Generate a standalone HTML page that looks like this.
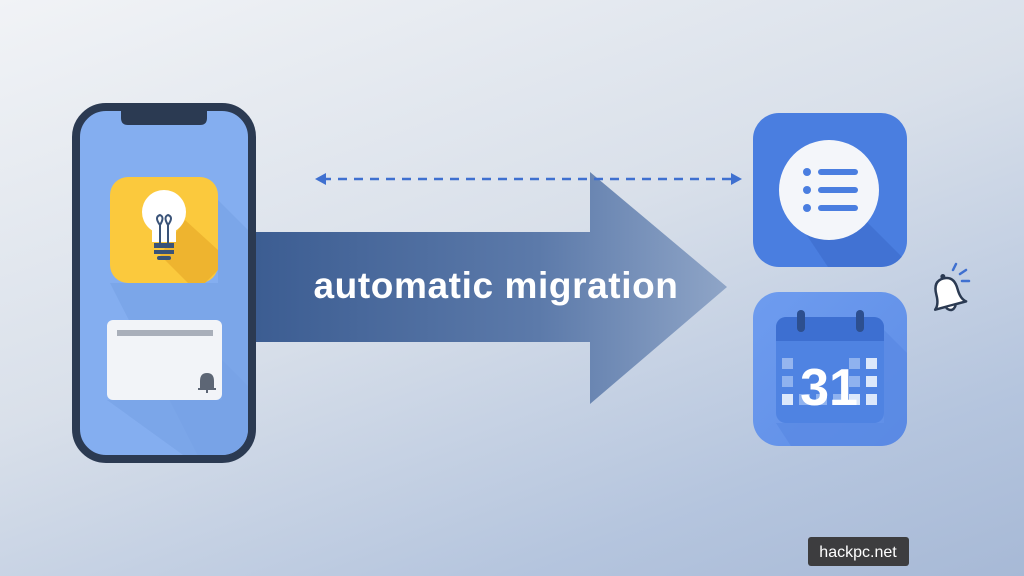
<!DOCTYPE html>
<html><head><style>
body{margin:0;width:1024px;height:576px;overflow:hidden;font-family:"Liberation Sans",sans-serif;}
.bg{position:absolute;inset:0;background:linear-gradient(160deg,#f1f3f6 0%,#d9e0ea 45%,#b5c5de 80%,#a7b9d6 100%);}
</style></head><body>
<div class="bg"></div>
<svg width="1024" height="576" style="position:absolute;left:0;top:0">
<defs>
<linearGradient id="ar" x1="0" x2="1" y1="0" y2="0">
<stop offset="0" stop-color="#3c5d92"/><stop offset="0.6" stop-color="#5c7aaa"/><stop offset="1" stop-color="#8fa5c7"/></linearGradient>
<linearGradient id="cal" x1="0" y1="0" x2="1" y2="1"><stop offset="0" stop-color="#6e9cef"/><stop offset="1" stop-color="#5e8de6"/></linearGradient>
<clipPath id="scr"><rect x="80" y="111" width="168" height="344" rx="26"/></clipPath>
<clipPath id="li"><rect x="753" y="113" width="154" height="154" rx="26"/></clipPath>
<clipPath id="ca"><rect x="753" y="292" width="154" height="154" rx="26"/></clipPath>
</defs>
<!-- arrow -->
<polygon points="256,232 590,232 590,172 727,287 590,404 590,342 256,342" fill="url(#ar)"/>
<text x="496" y="298" font-size="37" font-weight="bold" fill="#fff" text-anchor="middle" font-family="Liberation Sans, sans-serif" letter-spacing="0.6">automatic migration</text>
<!-- dashed -->
<line x1="322" y1="179" x2="734" y2="179" stroke="#3f70d0" stroke-width="2.5" stroke-dasharray="9,7"/>
<polygon points="315,179 326,173 326,185" fill="#3f70d0"/>
<polygon points="742,179 731,173 731,185" fill="#3f70d0"/>
<!-- phone -->
<rect x="76" y="107" width="176" height="352" rx="30" fill="#84aef0" stroke="#2b3a52" stroke-width="8"/>
<g clip-path="url(#scr)">
<polygon points="218,200 260,242 260,460 200,460 110,283 218,283" fill="#78a2e6" opacity="0.7"/>
<polygon points="222,360 260,398 260,460 190,460 107,400 222,400" fill="#78a2e6" opacity="0.7"/>
</g>
<path d="M121,107 H207 V118 Q207,125 200,125 H128 Q121,125 121,118 Z" fill="#2b3a52"/>
<rect x="110" y="177" width="108" height="106" rx="18" fill="#fbc93d"/>
<polygon points="185,220 218,250 218,270 205,283 188,283 160,255" fill="#eeb42f"/>
<circle cx="164" cy="212" r="22" fill="#fff"/>
<rect x="152" y="222" width="24" height="20" fill="#fff"/>
<path d="M160,243 V225 M168,243 V225 M160,225 q-6,-8 0,-10 q5,2 0,10 M168,225 q6,-8 0,-10 q-5,2 0,10" stroke="#3a5378" stroke-width="2" fill="none"/>
<rect x="154" y="243" width="20" height="5" fill="#3a5378"/><rect x="154" y="250" width="20" height="4" fill="#3a5378"/><rect x="157" y="256" width="14" height="4" rx="2" fill="#3a5378"/>
<rect x="107" y="320" width="115" height="80" rx="6" fill="#f2f4f8"/>
<rect x="117" y="330" width="96" height="6" fill="#a9afba"/>
<path d="M201,388 v-7 q0,-7 6,-7 q6,0 6,7 v7 z M198,389 h18 M207,390 v3" stroke="#5d6675" fill="#5d6675" stroke-width="2"/>
<!-- list icon -->
<rect x="753" y="113" width="154" height="154" rx="26" fill="#4a7ee0"/>
<polygon points="865,220 920,275 920,300 850,300 800,225" fill="#3f6fd0" opacity="0.8" clip-path="url(#li)"/>
<circle cx="829" cy="190" r="50" fill="#f4f6fa"/>
<g fill="#4a7ee0"><circle cx="807" cy="172" r="4"/><circle cx="807" cy="190" r="4"/><circle cx="807" cy="208" r="4"/>
<rect x="818" y="169" width="40" height="6" rx="3"/><rect x="818" y="187" width="40" height="6" rx="3"/><rect x="818" y="205" width="40" height="6" rx="3"/></g>
<!-- calendar -->
<rect x="753" y="292" width="154" height="154" rx="26" fill="url(#cal)"/>
<polygon points="884,330 920,366 920,460 800,460 776,423 884,423" fill="#5a8ae4" opacity="0.8" clip-path="url(#ca)"/>
<rect x="776" y="317" width="108" height="106" rx="10" fill="#4f83e2"/>
<rect x="776" y="317" width="108" height="24" rx="10" fill="#3d6fd1"/>
<rect x="776" y="330" width="108" height="11" fill="#3d6fd1"/>
<rect x="797" y="310" width="8" height="22" rx="4" fill="#2d4f8f"/><rect x="856" y="310" width="8" height="22" rx="4" fill="#2d4f8f"/>
<g fill="#8fb2ef"><rect x="782" y="376" width="11" height="11"/><rect x="799" y="394" width="11" height="11"/><rect x="816" y="394" width="11" height="11"/><rect x="833" y="394" width="11" height="11"/><rect x="849" y="358" width="11" height="11"/><rect x="849" y="376" width="11" height="11"/></g>
<g fill="#dce8fb">
<rect x="782" y="394" width="11" height="11"/><rect x="849" y="394" width="11" height="11"/><rect x="866" y="394" width="11" height="11"/>
<rect x="866" y="358" width="11" height="11"/><rect x="866" y="376" width="11" height="11"/><rect x="782" y="358" width="11" height="11" opacity="0.5"/>
</g>
<text x="829" y="405" font-size="52" font-weight="bold" fill="#fff" text-anchor="middle">31</text>
<!-- bell -->
<g transform="rotate(-15 947 292)">
<path d="M931,306 q5,-4 5,-14 q0,-14 11,-14 q11,0 11,14 q0,10 5,14 z" fill="#fff" stroke="#2b3a52" stroke-width="2.5" stroke-linejoin="round"/>
<path d="M942,307 q5,7 10,0" fill="#fff" stroke="#2b3a52" stroke-width="2.5"/>
<circle cx="947" cy="276" r="2.5" fill="#2b3a52"/>
</g>
<path d="M953,270 l3,-6 M960,274 l6,-4 M962,281 l7,0" stroke="#3f70d0" stroke-width="2.5" stroke-linecap="round"/>
<!-- watermark -->
<rect x="808" y="537" width="101" height="29" rx="3" fill="#3d3d3f"/>
<text x="858" y="557" font-size="16" fill="#fff" text-anchor="middle">hackpc.net</text>
</svg>
</body></html>
